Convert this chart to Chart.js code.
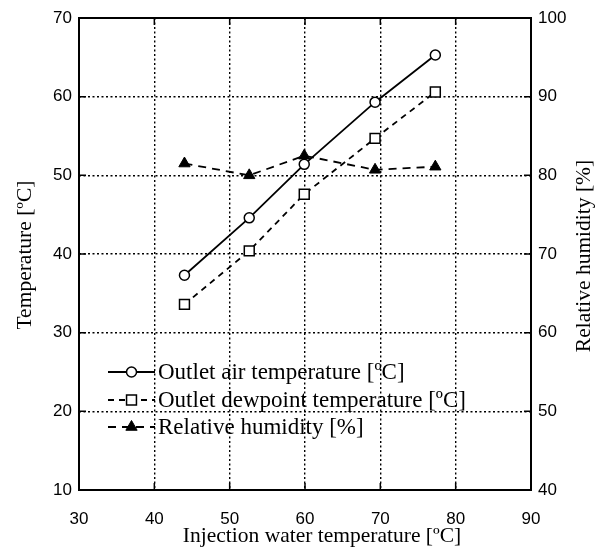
<!DOCTYPE html>
<html><head><meta charset="utf-8">
<script src="https://cdn.jsdelivr.net/npm/chart.js@4.4.1/dist/chart.umd.min.js"></script>
<style>html,body{margin:0;padding:0;background:#fff}canvas{display:block}</style>
</head><body>
<canvas id="c" width="599" height="547"></canvas>
<script>
// ---- data ----
const injectionTemp = [44.0, 52.6, 59.9, 69.3, 77.3];
const outletAirTemp = [37.3, 44.6, 51.4, 59.3, 65.3];
const outletDewTemp = [33.6, 40.4, 47.6, 54.7, 60.6];
const relHumidity  = [81.5, 80.0, 82.5, 80.7, 81.1];
const seriesLabels = ['Outlet air temperature [ºC]', 'Outlet dewpoint temperature [ºC]', 'Relative humidity [%]'];
const xTitle = 'Injection water temperature [ºC]';
const yTitle = 'Temperature [ºC]';
const y1Title = 'Relative humidity [%]';

const pts = (ys) => injectionTemp.map((x, i) => ({x: x, y: ys[i]}));

const SANS = "'Liberation Sans', Arial, sans-serif";
const SERIF = "'Liberation Serif', 'Times New Roman', serif";

const framePlugin = {
  id: 'frame',
  beforeDraw(chart) {
    const c = chart.ctx;
    c.save(); c.fillStyle = '#fff'; c.fillRect(0, 0, chart.width, chart.height); c.restore();
  },
  afterDatasetsDraw(chart) {
    const c = chart.ctx, a = chart.chartArea;
    // legend inside plot
    const rows = [354, 382, 409];
    c.save();
    chart.data.datasets.forEach((ds, i) => {
      const y = a.top + rows[i];
      const x0 = a.left + 29, x1 = a.left + 76, xm = (x0 + x1) / 2;
      c.strokeStyle = '#000'; c.lineWidth = ds.borderWidth;
      c.setLineDash(ds.borderDash || []);
      c.beginPath(); c.moveTo(x0, y); c.lineTo(x1, y); c.stroke();
      c.setLineDash([]);
      c.fillStyle = ds.pointBackgroundColor; c.strokeStyle = '#000'; c.lineWidth = ds.pointBorderWidth;
      Chart.helpers.drawPoint(c, {pointStyle: ds.pointStyle, radius: ds.pointRadius, rotation: 0, borderWidth: ds.pointBorderWidth}, xm, y);
      c.fillStyle = '#000'; c.font = '23px ' + SERIF; c.textBaseline = 'middle'; c.textAlign = 'left';
      c.fillText(ds.label, x1 + 3, y + 1);
    });
    c.restore();
  },
  afterDraw(chart) {
    const c = chart.ctx, a = chart.chartArea;
    c.save();
    c.strokeStyle = '#000'; c.lineWidth = 2; c.setLineDash([]);
    c.strokeRect(a.left, a.top, a.right - a.left, a.bottom - a.top);
    c.lineWidth = 1.5;
    const L = 7;
    const xs = chart.scales.x, ys = chart.scales.y;
    xs.ticks.forEach(t => {
      const px = xs.getPixelForValue(t.value);
      c.beginPath(); c.moveTo(px, a.bottom); c.lineTo(px, a.bottom - L);
      c.moveTo(px, a.top); c.lineTo(px, a.top + L); c.stroke();
    });
    ys.ticks.forEach(t => {
      const py = ys.getPixelForValue(t.value);
      c.beginPath(); c.moveTo(a.left, py); c.lineTo(a.left + L, py);
      c.moveTo(a.right, py); c.lineTo(a.right - L, py); c.stroke();
    });
    // axis titles
    c.fillStyle = '#000'; c.font = '21.5px ' + SERIF; c.textAlign = 'center'; c.textBaseline = 'middle';
    const midY = (a.top + a.bottom) / 2;
    c.fillText(xTitle, (a.left + a.right) / 2 + 17, 536);
    c.save(); c.translate(25, midY + 1); c.rotate(-Math.PI / 2); c.fillText(yTitle, 0, 0); c.restore();
    c.save(); c.translate(584, midY + 2); c.rotate(-Math.PI / 2); c.fillText(y1Title, 0, 0); c.restore();
    c.restore();
  }
};

new Chart(document.getElementById('c'), {
  type: 'scatter',
  data: {
    datasets: [
      {label: seriesLabels[0], data: pts(outletAirTemp), yAxisID: 'y', showLine: true,
       borderColor: '#000', borderWidth: 1.8, pointStyle: 'circle', pointRadius: 5,
       pointBackgroundColor: '#fff', pointBorderColor: '#000', pointBorderWidth: 1.5},
      {label: seriesLabels[1], data: pts(outletDewTemp), yAxisID: 'y', showLine: true,
       borderColor: '#000', borderWidth: 1.8, borderDash: [6, 5], pointStyle: 'rect', pointRadius: 7,
       pointBackgroundColor: '#fff', pointBorderColor: '#000', pointBorderWidth: 1.5},
      {label: seriesLabels[2], data: pts(relHumidity), yAxisID: 'y1', showLine: true,
       borderColor: '#000', borderWidth: 1.8, borderDash: [8, 6], pointStyle: 'triangle', pointRadius: 6.5,
       pointBackgroundColor: '#000', pointBorderColor: '#000', pointBorderWidth: 1}
    ]
  },
  options: {
    responsive: false, animation: false, devicePixelRatio: 1,
    layout: {padding: {top: 18, left: 0, right: 0, bottom: 0}},
    plugins: {legend: {display: false}, tooltip: {enabled: false}},
    scales: {
      x: {
        type: 'linear', position: 'bottom', min: 30, max: 90,
        ticks: {stepSize: 10, color: '#000', font: {family: SANS, size: 17}, padding: 19, maxRotation: 0},
        grid: {color: '#000', lineWidth: 1.4, drawTicks: false},
        border: {display: false, dash: [2, 2.5]},
        afterFit(s) { s.height = 57; }
      },
      y: {
        type: 'linear', position: 'left', min: 10, max: 70,
        ticks: {stepSize: 10, color: '#000', font: {family: SANS, size: 17}, padding: 7},
        grid: {color: '#000', lineWidth: 1.4, drawTicks: false},
        border: {display: false, dash: [2, 2.5]},
        afterFit(s) { s.width = 79; }
      },
      y1: {
        type: 'linear', position: 'right', min: 40, max: 100,
        ticks: {stepSize: 10, color: '#000', font: {family: SANS, size: 17}, padding: 7},
        grid: {display: false, drawTicks: false},
        border: {display: false},
        afterFit(s) { s.width = 68; }
      }
    }
  },
  plugins: [framePlugin]
});
</script>
</body></html>
